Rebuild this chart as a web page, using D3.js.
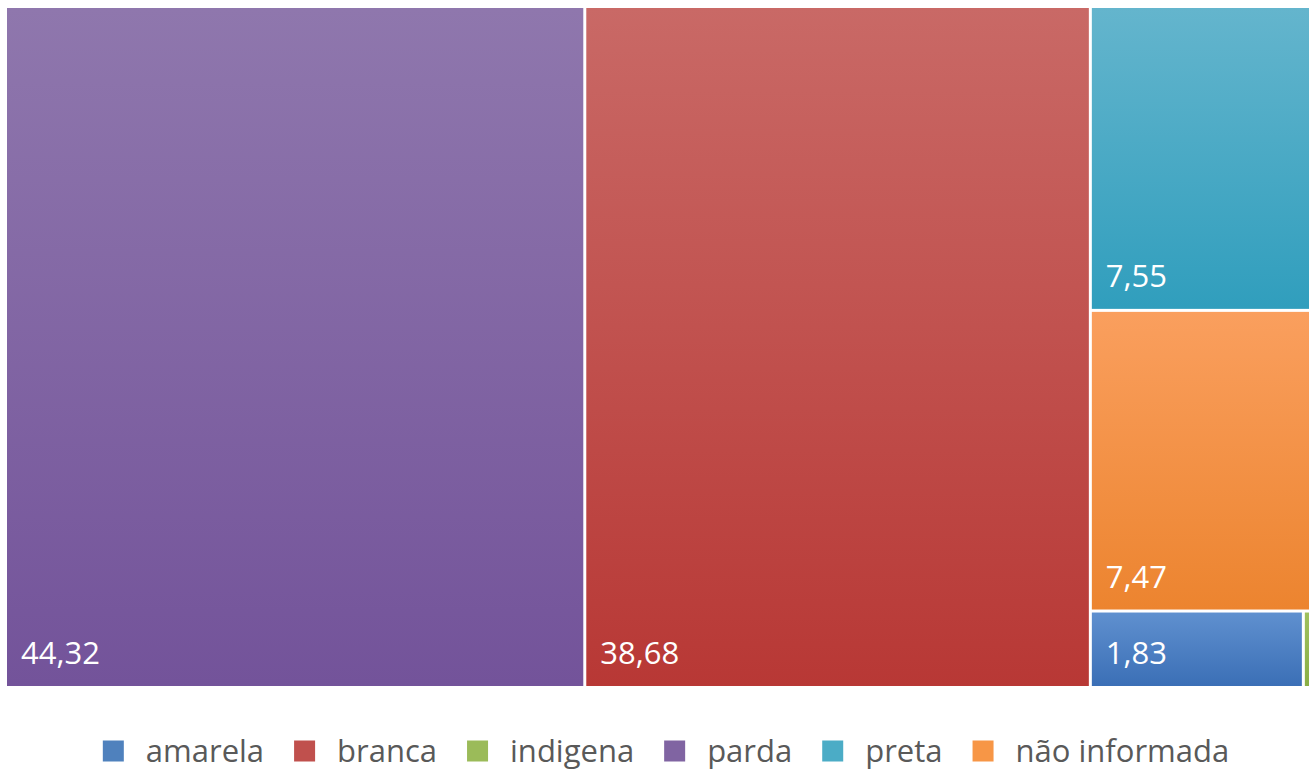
<!DOCTYPE html>
<html>
<head>
<meta charset="utf-8">
<script src="https://cdn.jsdelivr.net/npm/d3@7"></script>
<style>
    html, body { margin: 0; padding: 0; background: #fff; }
    svg { display: block; }
    text { font-family: 'Open Sans', sans-serif; }
</style>
</head>
<body>
<svg id="chart"></svg>
<script>
const width = 1309;
const height = 771;

// values
const categories = ['amarela', 'branca', 'indigena', 'parda', 'preta', 'não informada'];
const values = [1.83, 38.68, 0.07, 44.32, 7.55, 7.47];
const labels = ['1,83', '38,68', '', '44,32', '7,55', '7,47'];

const baseColors = ['#4f81bd', '#c0504d', '#9bbb59', '#8064a2', '#4bacc6', '#f79646'];
const topColors = ['#5f90cf', '#c96966', '#9fc05e', '#8f77ad', '#64b5cd', '#fa9f5e'];
const bottomColors = ['#3b6fb6', '#b83835', '#8aaf45', '#73539a', '#309ebd', '#ec842f'];

const plot = { left: 7, top: 8, right: 1310, bottom: 686 };

const svg = d3.select('#chart')
    .attr('width', width)
    .attr('height', height);

const defs = svg.append('defs');
categories.forEach((c, i) => {
    const grad = defs.append('linearGradient')
        .attr('id', `grad${i}`)
        .attr('x1', 0).attr('y1', 0)
        .attr('x2', 0).attr('y2', 1);
    grad.append('stop').attr('offset', '0%').attr('stop-color', topColors[i]);
    grad.append('stop').attr('offset', '100%').attr('stop-color', bottomColors[i]);
});

const root = d3.hierarchy({
        children: categories.map((name, i) => ({ name, value: values[i], idx: i }))
    })
    .sum(d => d.value || 0)
    .sort((a, b) => b.value - a.value);

d3.treemap()
    .tile(d3.treemapSquarify.ratio(1))
    .size([plot.right - plot.left, plot.bottom - plot.top])
    .paddingInner(3)
    .round(false)(root);

const cells = svg.append('g')
    .attr('transform', `translate(${plot.left}, ${plot.top})`)
    .selectAll('g')
    .data(root.leaves())
    .enter()
    .append('g')
    .attr('transform', d => `translate(${d.x0}, ${d.y0})`);

cells.append('rect')
    .attr('width', d => d.x1 - d.x0)
    .attr('height', d => d.y1 - d.y0)
    .attr('fill', d => `url(#grad${d.data.idx})`);

cells.append('text')
    .attr('x', 14)
    .attr('y', d => d.y1 - d.y0 - 22)
    .attr('fill', '#fff')
    .style('font-size', '31px')
    .text(d => labels[d.data.idx]);

// legend
const legend = svg.append('g');
const legendItems = legend.selectAll('g')
    .data(categories)
    .enter()
    .append('g');

legendItems.append('rect')
    .attr('width', 21)
    .attr('height', 21)
    .attr('y', -10.5)
    .attr('fill', (d, i) => baseColors[i]);

legendItems.append('text')
    .attr('x', 43)
    .attr('y', 0)
    .attr('dy', '0.35em')
    .attr('fill', '#595959')
    .style('font-size', '31px')
    .text(d => d);

let offset = 0;
legendItems.each(function() {
    const w = d3.select(this).select('text').node().getComputedTextLength();
    d3.select(this).attr('transform', `translate(${offset}, 0)`);
    offset += 43 + w + 30;
});
const legendWidth = offset - 30;
legend.attr('transform', `translate(${666 - legendWidth / 2}, 751)`);
</script>
</body>
</html>
